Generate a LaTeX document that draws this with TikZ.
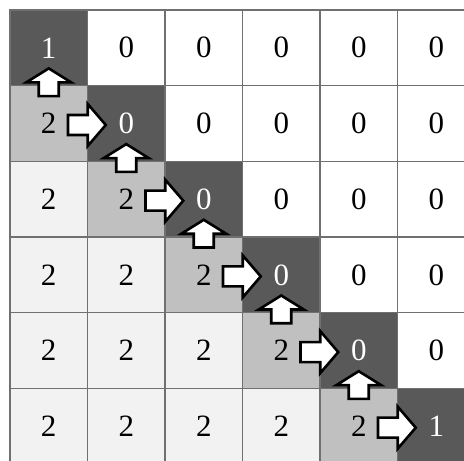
\documentclass[tikz,border=0pt]{standalone}
\usepackage{fontspec}
\setmainfont{Liberation Serif}
\definecolor{cellDark}{HTML}{595959}
\definecolor{cellMid}{HTML}{C0C0C0}
\definecolor{cellLight}{HTML}{F2F2F2}
\definecolor{gridGray}{HTML}{707070}

\begin{document}
\begin{tikzpicture}[
    x=1pt, y=1pt,
    cell/.style={rectangle, draw=gridGray, line width=1.5pt, minimum width=77.5pt, minimum height=75.7pt, inner sep=0pt, font=\fontsize{31}{31}\selectfont},
    white_cell/.style={cell, fill=white},
    light_cell/.style={cell, fill=cellLight},
    mid_cell/.style={cell, fill=cellMid},
    dark_cell/.style={cell, fill=cellDark, text=white},
    block_arrow/.style={draw=black, fill=white, line width=2.6pt, line join=miter}
]
    \fill[white] (0,0) rectangle (464,461);
    \useasboundingbox (0,0) rectangle (464,461);
    \clip (0,0) rectangle (464,461);

        % row 0
        \node[dark_cell] (c00) at (48.75,413.2) {1};
        \node[white_cell] (c01) at (126.25,413.2) {0};
        \node[white_cell] (c02) at (203.75,413.2) {0};
        \node[white_cell] (c03) at (281.25,413.2) {0};
        \node[white_cell] (c04) at (358.75,413.2) {0};
        \node[white_cell] (c05) at (436.25,413.2) {0};
        % row 1
        \node[mid_cell] (c10) at (48.75,337.5) {2};
        \node[dark_cell] (c11) at (126.25,337.5) {0};
        \node[white_cell] (c12) at (203.75,337.5) {0};
        \node[white_cell] (c13) at (281.25,337.5) {0};
        \node[white_cell] (c14) at (358.75,337.5) {0};
        \node[white_cell] (c15) at (436.25,337.5) {0};
        % row 2
        \node[light_cell] (c20) at (48.75,261.8) {2};
        \node[mid_cell] (c21) at (126.25,261.8) {2};
        \node[dark_cell] (c22) at (203.75,261.8) {0};
        \node[white_cell] (c23) at (281.25,261.8) {0};
        \node[white_cell] (c24) at (358.75,261.8) {0};
        \node[white_cell] (c25) at (436.25,261.8) {0};
        % row 3
        \node[light_cell] (c30) at (48.75,186.1) {2};
        \node[light_cell] (c31) at (126.25,186.1) {2};
        \node[mid_cell] (c32) at (203.75,186.1) {2};
        \node[dark_cell] (c33) at (281.25,186.1) {0};
        \node[white_cell] (c34) at (358.75,186.1) {0};
        \node[white_cell] (c35) at (436.25,186.1) {0};
        % row 4
        \node[light_cell] (c40) at (48.75,110.4) {2};
        \node[light_cell] (c41) at (126.25,110.4) {2};
        \node[light_cell] (c42) at (203.75,110.4) {2};
        \node[mid_cell] (c43) at (281.25,110.4) {2};
        \node[dark_cell] (c44) at (358.75,110.4) {0};
        \node[white_cell] (c45) at (436.25,110.4) {0};
        % row 5
        \node[light_cell] (c50) at (48.75,34.8) {2};
        \node[light_cell] (c51) at (126.25,34.8) {2};
        \node[light_cell] (c52) at (203.75,34.8) {2};
        \node[light_cell] (c53) at (281.25,34.8) {2};
        \node[mid_cell] (c54) at (358.75,34.8) {2};
        \node[dark_cell] (c55) at (436.25,34.8) {1};

    % up arrows
    \draw[block_arrow, shift={(c00.south)}] (-10,-9.75) -- (-10,4) -- (-22.5,4) -- (0,18) -- (22.5,4) -- (10,4) -- (10,-9.75) -- cycle;
    \draw[block_arrow, shift={(c11.south)}] (-10,-9.75) -- (-10,4) -- (-22.5,4) -- (0,18) -- (22.5,4) -- (10,4) -- (10,-9.75) -- cycle;
    \draw[block_arrow, shift={(c22.south)}] (-10,-9.75) -- (-10,4) -- (-22.5,4) -- (0,18) -- (22.5,4) -- (10,4) -- (10,-9.75) -- cycle;
    \draw[block_arrow, shift={(c33.south)}] (-10,-9.75) -- (-10,4) -- (-22.5,4) -- (0,18) -- (22.5,4) -- (10,4) -- (10,-9.75) -- cycle;
    \draw[block_arrow, shift={(c44.south)}] (-10,-9.75) -- (-10,4) -- (-22.5,4) -- (0,18) -- (22.5,4) -- (10,4) -- (10,-9.75) -- cycle;
    % right arrows
    \draw[block_arrow, shift={(c11.west)}, yshift=-1.5pt] (-18.75,-10) -- (-18.75,10) -- (1,10) -- (1,21) -- (19,0) -- (1,-21) -- (1,-10) -- cycle;
    \draw[block_arrow, shift={(c22.west)}, yshift=-1.5pt] (-18.75,-10) -- (-18.75,10) -- (1,10) -- (1,21) -- (19,0) -- (1,-21) -- (1,-10) -- cycle;
    \draw[block_arrow, shift={(c33.west)}, yshift=-1.5pt] (-18.75,-10) -- (-18.75,10) -- (1,10) -- (1,21) -- (19,0) -- (1,-21) -- (1,-10) -- cycle;
    \draw[block_arrow, shift={(c44.west)}, yshift=-1.5pt] (-18.75,-10) -- (-18.75,10) -- (1,10) -- (1,21) -- (19,0) -- (1,-21) -- (1,-10) -- cycle;
    \draw[block_arrow, shift={(c55.west)}, yshift=-1.5pt] (-18.75,-10) -- (-18.75,10) -- (1,10) -- (1,21) -- (19,0) -- (1,-21) -- (1,-10) -- cycle;

\end{tikzpicture}
\end{document}
